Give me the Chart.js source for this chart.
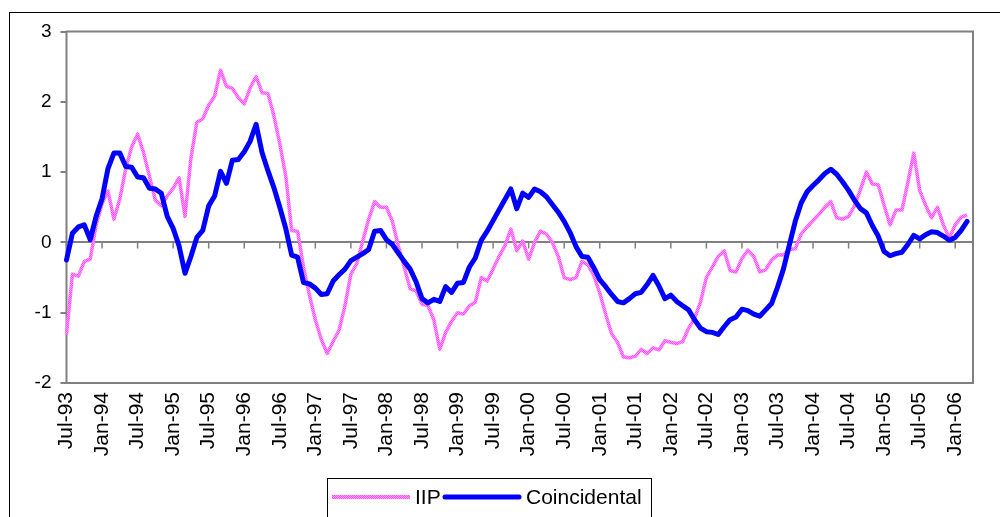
<!DOCTYPE html>
<html>
<head>
<meta charset="utf-8">
<script src="https://cdn.jsdelivr.net/npm/chart.js@4.4.1/dist/chart.umd.min.js"></script>
<style>
  html, body { margin: 0; padding: 0; background: #fff; }
  canvas { display: block; }
</style>
</head>
<body>
<canvas id="chart" width="1000" height="517"></canvas>
<script>
// Monthly categories, Jul-93 through Apr-06
const monthNames = ['Jan','Feb','Mar','Apr','May','Jun','Jul','Aug','Sep','Oct','Nov','Dec'];
const categories = [];
for (let k = 0; k < 154; k++) {
  const m = (6 + k) % 12;
  const y = 1993 + Math.floor((6 + k) / 12);
  categories.push(monthNames[m] + '-' + String(y % 100).padStart(2, '0'));
}

const seriesNames = ['IIP', 'Coincidental'];
const yTicks = [-2, -1, 0, 1, 2, 3];

// Industrial production index, Jul-93 .. Mar-06
const iip = [
  -1.31, -0.45, -0.48, -0.27, -0.24, 0.25, 0.55, 0.73, 0.33, 0.62,
  1.05, 1.36, 1.54, 1.28, 0.94, 0.60, 0.52, 0.66, 0.77, 0.92,
  0.37, 1.20, 1.71, 1.76, 1.95, 2.08, 2.45, 2.22, 2.19, 2.06,
  1.97, 2.20, 2.36, 2.13, 2.12, 1.80, 1.40, 0.95, 0.17, 0.16,
  -0.35, -0.75, -1.10, -1.38, -1.58, -1.41, -1.25, -0.90, -0.45, -0.30,
  0.02, 0.33, 0.58, 0.50, 0.50, 0.30, -0.05, -0.35, -0.66, -0.69,
  -0.88, -0.90, -1.10, -1.52, -1.28, -1.12, -1.00, -1.02, -0.90, -0.85,
  -0.50, -0.55, -0.38, -0.20, -0.05, 0.19, -0.12, 0.02, -0.24, 0.00,
  0.16, 0.12, 0.00, -0.20, -0.50, -0.53, -0.50, -0.27, -0.32, -0.47,
  -0.72, -1.02, -1.30, -1.42, -1.63, -1.64, -1.62, -1.52, -1.58, -1.50,
  -1.53, -1.40, -1.42, -1.44, -1.41, -1.22, -1.08, -0.85, -0.50, -0.35,
  -0.20, -0.12, -0.40, -0.42, -0.23, -0.11, -0.20, -0.42, -0.39, -0.25,
  -0.18, -0.18, -0.10, -0.09, 0.12, 0.22, 0.31, 0.40, 0.50, 0.58,
  0.35, 0.33, 0.37, 0.52, 0.75, 1.00, 0.83, 0.82, 0.53, 0.25,
  0.46, 0.46, 0.85, 1.27, 0.74, 0.53, 0.35, 0.50, 0.25, 0.06,
  0.25, 0.36, 0.39
];

// Coincidental index, Jul-93 .. Mar-06
const coincidental = [
  -0.25, 0.13, 0.22, 0.25, 0.04, 0.37, 0.62, 1.05, 1.27, 1.27,
  1.08, 1.07, 0.93, 0.92, 0.77, 0.76, 0.70, 0.37, 0.20, -0.05,
  -0.44, -0.20, 0.07, 0.17, 0.52, 0.66, 1.01, 0.84, 1.17, 1.18,
  1.29, 1.44, 1.68, 1.28, 1.02, 0.78, 0.50, 0.20, -0.18, -0.21,
  -0.57, -0.59, -0.65, -0.74, -0.73, -0.55, -0.46, -0.38, -0.26, -0.21,
  -0.16, -0.10, 0.16, 0.17, 0.04, -0.03, -0.15, -0.27, -0.38, -0.56,
  -0.80, -0.86, -0.81, -0.84, -0.63, -0.71, -0.58, -0.57, -0.35, -0.22,
  0.03, 0.16, 0.31, 0.46, 0.61, 0.76, 0.48, 0.70, 0.64, 0.76,
  0.72, 0.65, 0.54, 0.43, 0.30, 0.14, -0.06, -0.20, -0.21, -0.36,
  -0.53, -0.63, -0.74, -0.84, -0.86, -0.80, -0.73, -0.71, -0.60, -0.47,
  -0.62, -0.80, -0.75, -0.84, -0.90, -0.96, -1.10, -1.22, -1.27, -1.28,
  -1.31, -1.20, -1.10, -1.06, -0.95, -0.97, -1.02, -1.05, -0.96, -0.87,
  -0.64, -0.38, -0.04, 0.30, 0.56, 0.72, 0.81, 0.89, 0.98, 1.04,
  0.97, 0.86, 0.74, 0.60, 0.48, 0.42, 0.24, 0.09, -0.13, -0.19,
  -0.16, -0.14, -0.03, 0.10, 0.05, 0.11, 0.15, 0.14, 0.09, 0.03,
  0.07, 0.17, 0.30
];

const FONT = "'Liberation Sans', Arial, sans-serif";

// Speckled magenta stroke for the IIP line
function speckledPink() {
  const p = document.createElement('canvas');
  p.width = 2; p.height = 2;
  const g = p.getContext('2d');
  g.fillStyle = '#ff4dff';
  g.fillRect(0, 0, 2, 2);
  g.fillStyle = '#ff9cff';
  g.fillRect(0, 0, 1, 1);
  g.fillRect(1, 1, 1, 1);
  return g.createPattern(p, 'repeat');
}
const pink = speckledPink();
const blue = '#0000ff';

// Page frame, plot frame and tick marks on the zero line
const framePlugin = {
  id: 'frame',
  beforeDraw(chart) {
    const ctx = chart.ctx;
    ctx.save();
    ctx.fillStyle = '#fff';
    ctx.fillRect(0, 0, chart.width, chart.height);
    ctx.strokeStyle = '#000';
    ctx.lineWidth = 1;
    ctx.strokeRect(9.5, 12.5, 1100, 600);
    ctx.restore();
  },
  beforeDatasetsDraw(chart) {
    const ctx = chart.ctx;
    const a = chart.chartArea;
    const xs = chart.scales.x, ys = chart.scales.y;
    const y0 = ys.getPixelForValue(0);
    ctx.save();
    ctx.strokeStyle = '#808080';
    ctx.lineWidth = 2;
    ctx.strokeRect(a.left, a.top, a.right - a.left, a.bottom - a.top);
    ctx.lineWidth = 1.5;
    ctx.beginPath();
    for (let i = 0; i < categories.length; i += 6) {
      const x = xs.getPixelForValue(i);
      ctx.moveTo(x, y0);
      ctx.lineTo(x, y0 + 6);
    }
    ctx.stroke();
    ctx.restore();
  }
};

// Boxed legend below the axis labels
const legendPlugin = {
  id: 'boxLegend',
  afterDraw(chart) {
    const ctx = chart.ctx;
    const ds = chart.data.datasets;
    const y = 497;
    ctx.save();
    ctx.strokeStyle = '#000';
    ctx.lineWidth = 1;
    ctx.strokeRect(327.5, 478.5, 324, 60);
    ctx.font = '21px ' + FONT;
    ctx.fillStyle = '#000';
    ctx.textBaseline = 'middle';
    ctx.textAlign = 'left';
    // IIP sample
    ctx.strokeStyle = ds[0].borderColor;
    ctx.lineWidth = 4;
    ctx.lineCap = 'butt';
    ctx.beginPath(); ctx.moveTo(332, y); ctx.lineTo(410, y); ctx.stroke();
    ctx.fillText(ds[0].label, 415, y + 1);
    // Coincidental sample
    ctx.strokeStyle = ds[1].borderColor;
    ctx.lineWidth = 5;
    ctx.lineCap = 'round';
    ctx.beginPath(); ctx.moveTo(445, y); ctx.lineTo(519, y); ctx.stroke();
    ctx.fillText(ds[1].label, 526, y + 1);
    ctx.restore();
  }
};

new Chart(document.getElementById('chart'), {
  type: 'line',
  data: {
    labels: categories,
    datasets: [
      {
        label: seriesNames[0],
        data: iip,
        borderColor: pink,
        borderWidth: 3.5,
        pointRadius: 0,
        tension: 0,
        borderJoinStyle: 'round',
        order: 2
      },
      {
        label: seriesNames[1],
        data: coincidental,
        borderColor: blue,
        borderWidth: 5,
        pointRadius: 0,
        tension: 0,
        borderJoinStyle: 'round',
        borderCapStyle: 'round',
        order: 1
      }
    ]
  },
  options: {
    responsive: false,
    animation: false,
    devicePixelRatio: 1,
    layout: { padding: { left: 0, right: 27, top: 31.5, bottom: 0 } },
    plugins: { legend: { display: false }, tooltip: { enabled: false } },
    scales: {
      x: {
        type: 'category',
        grid: { display: false, drawTicks: false },
        border: { display: false },
        ticks: {
          autoSkip: false,
          minRotation: 90,
          maxRotation: 90,
          padding: 9,
          color: '#000',
          font: { family: FONT, size: 21 },
          callback: (v, i) => (i % 6 === 0 ? categories[i] : '')
        },
        afterFit: s => { s.height = 134; s.paddingLeft = 0; s.paddingRight = 0; }
      },
      y: {
        min: yTicks[0],
        max: yTicks[yTicks.length - 1],
        afterBuildTicks: s => { s.ticks = yTicks.map(v => ({ value: v })); },
        ticks: {
          color: '#000',
          padding: 9,
          font: { family: FONT, size: 19 }
        },
        grid: {
          color: c => (c.tick && c.tick.value === 0 ? '#808080' : 'rgba(0,0,0,0)'),
          lineWidth: 2,
          tickColor: '#808080',
          tickLength: 6,
          tickWidth: 2
        },
        border: { display: false },
        afterFit: s => { s.width = 66.5; s.paddingTop = 0; s.paddingBottom = 0; }
      }
    }
  },
  plugins: [framePlugin, legendPlugin]
});
</script>
</body>
</html>
